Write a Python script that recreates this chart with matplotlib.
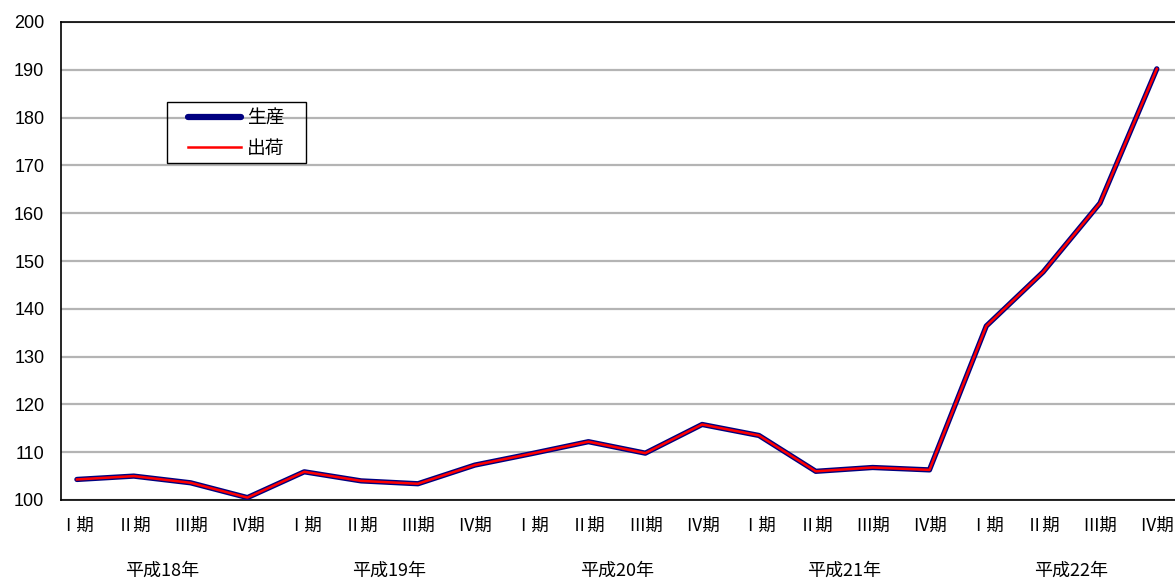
import numpy as np
import matplotlib
matplotlib.use("Agg")
import matplotlib.pyplot as plt
from matplotlib.patches import Rectangle

plt.rcParams['font.family'] = ['Noto Sans CJK JP', 'DejaVu Sans']

quarters = ["Ⅰ期", "Ⅱ期", "Ⅲ期", "Ⅳ期"] * 5
years = ["平成18年", "平成19年", "平成20年", "平成21年", "平成22年"]
seisan = [104.3, 105.0, 103.6, 100.5, 105.9, 104.0, 103.4, 107.3, 109.7, 112.2,
          109.8, 115.8, 113.5, 106.0, 106.8, 106.3, 136.4, 147.7, 162.1, 190.2]
shukka = [104.3, 105.0, 103.6, 100.5, 105.9, 104.0, 103.4, 107.3, 109.7, 112.2,
          109.8, 115.8, 113.5, 106.0, 106.8, 106.3, 136.4, 147.7, 162.1, 190.2]

W, H = 1175, 578
fig = plt.figure(figsize=(W / 100, H / 100), dpi=100)
ax = fig.add_axes([61 / W, 78 / H, 1 - 61 / W, 478 / H])

x = np.arange(len(quarters))
ax.plot(x, seisan, color="#000080", lw=3.8, solid_capstyle="round",
        label="生産", zorder=3)
ax.plot(x, shukka, color="#ff0000", lw=1.8, label="出荷", zorder=4)

ax.set_xlim(-0.28, 19.32)
ax.set_ylim(100, 200)
ax.set_yticks(np.arange(100, 201, 10))
ax.set_yticklabels([str(v) for v in range(100, 201, 10)],
                   family="Liberation Sans", fontsize=13)
ax.set_xticks(x)
ax.set_xticklabels(quarters, fontsize=12.5)
ax.tick_params(axis="y", length=0, pad=12)
ax.tick_params(axis="x", length=0, pad=12)
ax.grid(axis="y", color="#b4b4b4", lw=1.6, zorder=0)
ax.set_axisbelow(True)
for s in ["left", "bottom", "top"]:
    ax.spines[s].set_color("black")
    ax.spines[s].set_linewidth(1.2)
ax.spines["right"].set_visible(False)

# year labels under each group of four quarters
for i, y in enumerate(years):
    ax.text(i * 4 + 1.5, -0.148, y, transform=ax.get_xaxis_transform(),
            ha="center", va="center", fontsize=13)

# legend without its own frame; box drawn separately to get the wide padding
leg = fig.legend(loc="upper left", bbox_to_anchor=(188 / W, 1 - 108 / H),
                 fontsize=13.5, frameon=False,
                 handlelength=2.8, handletextpad=0.35, borderaxespad=0,
                 labelspacing=0.45, borderpad=0)
leg.legend_handles[0].set_linewidth(4.5)
fig.patches.append(Rectangle((167 / W, 1 - 163 / H), 139 / W, 61 / H,
                             transform=fig.transFigure, fill=False,
                             edgecolor="black", lw=1.0))

fig.savefig("out.png", dpi=100, facecolor="white")
